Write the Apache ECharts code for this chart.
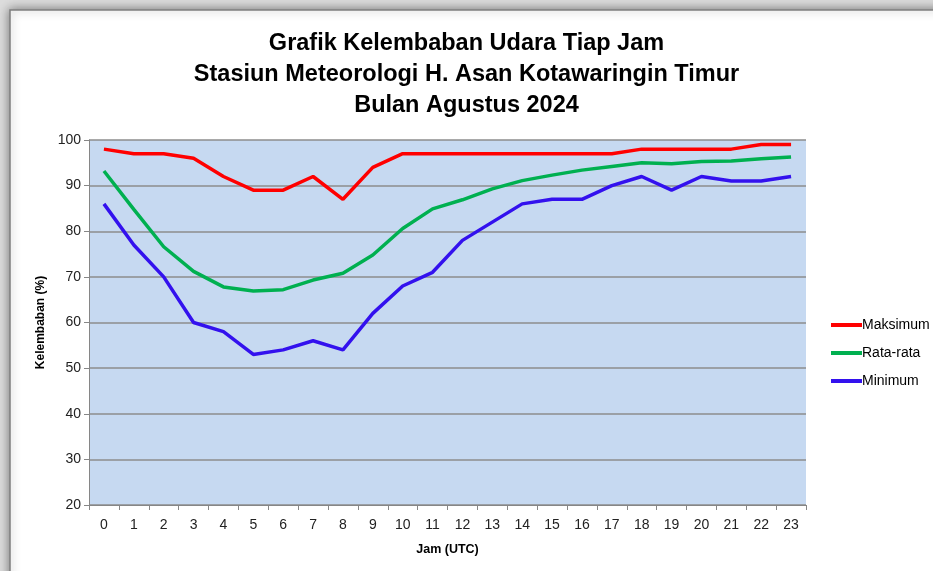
<!DOCTYPE html>
<html>
<head>
<meta charset="utf-8">
<script src="https://cdn.jsdelivr.net/npm/echarts@6/dist/echarts.min.js"></script>
<style>
html,body{margin:0;padding:0;background:#fff;}
#c{width:933px;height:571px;}
</style>
</head>
<body>
<div id="c"></div>
<script>
const hours = ['0','1','2','3','4','5','6','7','8','9','10','11','12','13','14','15','16','17','18','19','20','21','22','23'];
const maksimum = [98,97,97,96,92,89,89,92,87,94,97,97,97,97,97,97,97,97,98,98,98,98,99,99];
const rataRata = [93.2,84.8,76.6,71.2,67.8,66.9,67.2,69.3,70.8,74.8,80.6,84.9,86.9,89.3,91.1,92.3,93.4,94.2,95.0,94.8,95.3,95.4,95.9,96.3];
const minimum = [86,77,70,60,58,53,54,56,54,62,68,71,78,82,86,87,87,90,92,89,92,91,91,92];
const yTicks = [20,30,40,50,60,70,80,90,100];

const FONT = "'Liberation Sans',Arial,sans-serif";
const chart = echarts.init(document.getElementById('c'), null, {renderer:'canvas'});
chart.setOption({
  backgroundColor: '#dcdcdc',
  animation: false,
  graphic: [{
    type: 'rect', z: -10, silent: true,
    shape: {x: 10, y: 10, width: 960, height: 600},
    style: {fill: '#ffffff', stroke: '#7f7f7f', lineWidth: 1.5,
      shadowBlur: 10, shadowColor: 'rgba(0,0,0,0.45)', shadowOffsetX: 0, shadowOffsetY: 0}
  }],
  title: {
    text: 'Grafik Kelembaban Udara Tiap Jam\nStasiun Meteorologi H. Asan Kotawaringin Timur\nBulan Agustus 2024',
    left: 'center', top: 23,
    textStyle: {fontFamily: FONT, fontWeight: 'bold', fontSize: 23.5, lineHeight: 31, color: '#000'}
  },
  legend: {
    orient: 'vertical', left: 826, top: 312,
    itemWidth: 31, itemHeight: 4, itemGap: 12,
    icon: 'rect',
    textStyle: {fontFamily: FONT, fontSize: 14, color: '#000', padding: [0,0,0,-5], lineHeight: 16},
    data: ['Maksimum','Rata-rata','Minimum']
  },
  grid: {left: 89, right: 127, top: 140, bottom: 66, show: true, backgroundColor: '#C6D9F1', borderWidth: 0},
  xAxis: {
    type: 'category', data: hours, boundaryGap: true,
    name: 'Jam (UTC)', nameLocation: 'middle', nameGap: 38,
    nameTextStyle: {fontFamily: FONT, fontWeight: 'bold', fontSize: 12.5, color: '#000'},
    axisLine: {lineStyle: {color: '#868686', width: 1}},
    axisTick: {show: true, length: 5, lineStyle: {color: '#868686'}},
    axisLabel: {fontFamily: FONT, fontSize: 14, color: '#222', margin: 13, interval: 0}
  },
  yAxis: {
    type: 'value', min: 20, max: 100, interval: 10,
    name: 'Kelembaban (%)', nameLocation: 'middle', nameGap: 42, nameRotate: 90,
    nameTextStyle: {fontFamily: FONT, fontWeight: 'bold', fontSize: 12, color: '#000'},
    axisLine: {show: true, lineStyle: {color: '#868686', width: 1}},
    axisTick: {show: true, length: 5, lineStyle: {color: '#868686'}},
    axisLabel: {fontFamily: FONT, fontSize: 14, color: '#222', margin: 8,
      formatter: v => yTicks.includes(v) ? String(v) : ''},
    splitLine: {show: true, lineStyle: {color: '#8c8c8c', width: 1.5}}
  },
  series: [
    {name: 'Maksimum', type: 'line', data: maksimum, showSymbol: false, symbol: 'none',
      lineStyle: {color: '#FF0000', width: 3.5}, itemStyle: {color: '#FF0000'}},
    {name: 'Rata-rata', type: 'line', data: rataRata, showSymbol: false, symbol: 'none',
      lineStyle: {color: '#00B050', width: 3.5}, itemStyle: {color: '#00B050'}},
    {name: 'Minimum', type: 'line', data: minimum, showSymbol: false, symbol: 'none',
      lineStyle: {color: '#3311EE', width: 3.5}, itemStyle: {color: '#3311EE'}}
  ]
});
</script>
</body>
</html>
